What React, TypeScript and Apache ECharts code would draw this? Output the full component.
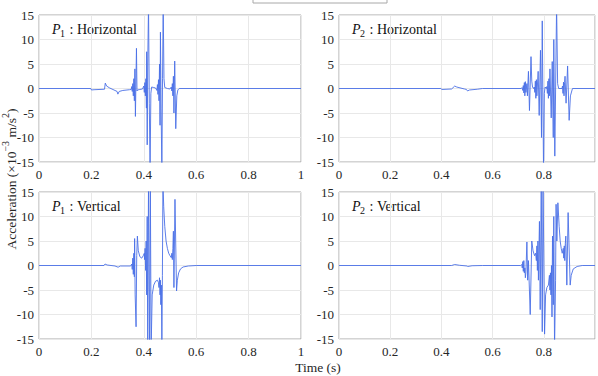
import React, { useEffect, useRef } from "react";
import * as echarts from "echarts";

// [time (s), acceleration (x10^-3 m/s^2)]
const P1_H: number[][] = [
  [0, 0], [0.198, 0], [0.2, -0.3], [0.21, -0.25], [0.25, -0.15], [0.253, 1.1], [0.258, 0.5], [0.27, 0.1],
  [0.29, -0.4], [0.298, -0.6], [0.301, -1.15], [0.306, -0.6], [0.32, -0.4], [0.345, -0.25], [0.352, -0.2],
  [0.354, 0.4], [0.356, -0.6], [0.358, 1.0], [0.36, -1.5], [0.362, 2.0], [0.364, -2.5], [0.366, 4.0],
  [0.368, -5.7], [0.3705, 3], [0.372, 8.2], [0.374, -0.5], [0.376, -0.3], [0.385, -0.2], [0.395, -0.1],
  [0.4, 0.5], [0.402, -0.8], [0.404, 1.2], [0.406, -1.5], [0.408, 2.0], [0.41, -4], [0.411, 7.5],
  [0.413, -11.5], [0.415, 5], [0.418, 17], [0.421, -3], [0.424, -17], [0.427, -1], [0.43, 0.3],
  [0.438, 0.2], [0.445, 0.1], [0.45, -0.4], [0.452, 0.8], [0.454, -1.2], [0.456, 1.8], [0.458, -2.5],
  [0.46, 5], [0.462, -7.5], [0.4635, 11.5], [0.466, -4], [0.469, -17], [0.4715, 2], [0.474, 17],
  [0.477, 2], [0.48, 0.2], [0.49, 0], [0.5, -0.1], [0.505, 0.3], [0.507, -0.5], [0.509, 1.0],
  [0.511, -1.5], [0.513, 2.5], [0.515, -5], [0.518, 5.6], [0.522, -8.2], [0.526, -1.5], [0.53, -0.3],
  [0.535, 0], [1, 0],
];

const P2_H: number[][] = [
  [0, 0], [0.398, 0], [0.402, -0.2], [0.44, -0.1], [0.452, 0.5], [0.46, 0.3], [0.49, -0.1], [0.498, -0.2],
  [0.502, -0.5], [0.51, -0.3], [0.54, -0.15], [0.56, 0], [0.712, 0],
  [0.715, 0.2], [0.718, -0.4], [0.72, 0.6], [0.722, -0.9], [0.724, 1.2], [0.726, -1.5], [0.728, 1.4],
  [0.73, -0.8], [0.734, 1], [0.736, -1.5], [0.74, 3.5], [0.744, -4.5], [0.75, 6.5], [0.753, 1.5],
  [0.756, 0.3], [0.76, 0],
  [0.763, 0.3], [0.765, -0.8], [0.767, 1.5], [0.769, -2], [0.771, 1.8], [0.773, -1.5], [0.778, 3.5],
  [0.782, -5.5], [0.787, 7.8], [0.791, -10], [0.794, 13.8], [0.799, -17], [0.802, -1], [0.805, 0.3],
  [0.81, 0], [0.812, 0.4], [0.814, -1], [0.816, 1.5], [0.818, -2], [0.82, 2], [0.822, -1.5], [0.824, 4],
  [0.829, -6], [0.833, 5.5], [0.837, -10], [0.839, 10], [0.843, -13.8], [0.85, 17], [0.854, 1],
  [0.858, 0], [0.871, 0], [0.873, 0.5], [0.875, -1], [0.877, 1.3], [0.879, -1.5], [0.881, 1.2],
  [0.883, 2.5], [0.887, -3], [0.893, 4.6], [0.899, -6.5], [0.904, -1.5], [0.912, 0], [1, 0],
];

const P1_V: number[][] = [
  [0, 0], [0.248, 0], [0.252, 0.3], [0.26, 0.1], [0.29, -0.1], [0.302, -0.35], [0.31, -0.1], [0.35, -0.1],
  [0.354, 0.3], [0.356, -0.8], [0.358, 1.5], [0.36, -1.8], [0.362, 2.5], [0.364, -2.3], [0.365, 5.5],
  [0.367, -6], [0.3705, -12.5], [0.373, 2], [0.3755, 6], [0.379, 3], [0.385, 1.8], [0.392, 1.5],
  [0.398, 2], [0.402, 2.5], [0.403, 1.2], [0.405, 3.5], [0.407, -1], [0.409, 5], [0.411, -6],
  [0.413, 10], [0.415, -17], [0.418, 17], [0.422, -17], [0.425, 17], [0.428, -17], [0.432, -6],
  [0.438, -4], [0.445, -3.2], [0.452, -3], [0.456, -3.5], [0.458, -4.5], [0.46, -2.5], [0.462, -6],
  [0.4635, -3], [0.465, -8], [0.467, -4], [0.469, -17], [0.471, -2], [0.473, 17], [0.476, 12],
  [0.48, 8], [0.485, 5], [0.49, 3.5], [0.495, 2.5], [0.5, 2], [0.505, 1.6], [0.507, 2.5], [0.509, 1.2],
  [0.511, 3.5], [0.513, 7], [0.515, -4.5], [0.519, 13.5], [0.525, -5.2], [0.528, -3], [0.533, -1.5],
  [0.54, -0.7], [0.55, -0.3], [0.57, -0.1], [0.6, 0], [1, 0],
];

const P2_V: number[][] = [
  [0, 0], [0.44, 0], [0.452, 0.2], [0.47, 0.05], [0.5, -0.1], [0.503, -0.2], [0.52, -0.05], [0.56, 0],
  [0.71, 0], [0.714, 0.2], [0.716, -0.5], [0.718, 0.8], [0.72, -1.2], [0.722, 1.0], [0.724, -1.5],
  [0.726, -0.5], [0.728, -2.5], [0.73, -1.5], [0.734, 4.8], [0.737, -3], [0.74, 1], [0.747, -10],
  [0.753, 5], [0.758, 3], [0.764, 2], [0.768, 2.5], [0.771, 1], [0.773, 4], [0.775, -1], [0.777, 5],
  [0.779, -3], [0.783, 9], [0.786, -9], [0.79, 17], [0.794, -13.5], [0.797, 17], [0.803, -14],
  [0.807, -6], [0.812, -4.5], [0.818, -4], [0.822, -2], [0.824, -5], [0.826, -1.5], [0.828, -6],
  [0.83, 0], [0.832, -10.5], [0.834, 6], [0.837, -8], [0.839, 10], [0.842, -17], [0.846, -3],
  [0.848, 12.5], [0.851, 5], [0.855, 12.8], [0.86, 8], [0.864, 5], [0.868, 3.5], [0.872, 2.5],
  [0.876, 3.5], [0.878, 1.5], [0.88, 4], [0.882, 1], [0.884, 4.5], [0.886, 6], [0.89, -4],
  [0.895, 10.8], [0.903, -4], [0.907, -2], [0.915, -0.7], [0.93, -0.2], [0.95, 0], [1, 0],
];

const X_TICKS = [0, 0.2, 0.4, 0.6, 0.8, 1];
const Y_TICKS = [-15, -10, -5, 0, 5, 10, 15];
const PANELS = [
  { sub: "1", dir: "Horizontal", data: P1_H },
  { sub: "2", dir: "Horizontal", data: P2_H },
  { sub: "1", dir: "Vertical", data: P1_V },
  { sub: "2", dir: "Vertical", data: P2_V },
];

const FONT = "Liberation Serif";
const LINE = "#4a6fe6";
const FRAME = "#a8a8a8";
const TXT = "#262626";

export default function App() {
  const ref = useRef<HTMLDivElement>(null);
  useEffect(() => {
    document.body.style.margin = "0";
    if (!ref.current) return;
    const chart = echarts.init(ref.current, null, { renderer: "svg" });
    const lefts = [39, 339, 39, 339];
    const tops = [15, 15, 192, 192];
    const widths = [262, 262.5, 262, 262.5];
    const grids = PANELS.map((_, i) => ({
      left: lefts[i], top: tops[i], width: widths[i], height: 147,
      show: true, borderColor: FRAME, borderWidth: 1, backgroundColor: "#fff",
    }));
    const xAxes = PANELS.map((_, i) => ({
      type: "value", gridIndex: i, min: X_TICKS[0], max: X_TICKS[X_TICKS.length - 1], interval: 0.2,
      axisLine: { show: false }, axisTick: { show: false },
      axisLabel: {
        color: TXT, fontFamily: FONT, fontSize: 13, margin: 6,
        formatter: (v: number) => (i % 2 === 1 && v === 1 ? "" : String(v)),
      },
      splitLine: { show: true, lineStyle: { color: "#e8e8e8", width: 1 } },
    }));
    const yAxes = PANELS.map((_, i) => ({
      type: "value", gridIndex: i, min: Y_TICKS[0], max: Y_TICKS[Y_TICKS.length - 1], interval: 5,
      axisLine: { show: false }, axisTick: { show: false },
      axisLabel: { color: TXT, fontFamily: FONT, fontSize: 13, margin: 5 },
      splitLine: { show: true, lineStyle: { color: "#e8e8e8", width: 1 } },
    }));
    const series = PANELS.map((p, i) => ({
      type: "line", xAxisIndex: i, yAxisIndex: i, data: p.data, showSymbol: false, symbol: "none",
      clip: true, lineStyle: { color: LINE, width: 0.9 }, silent: true,
    }));
    const labelEls: any[] = [];
    PANELS.forEach((p, i) => {
      const x = lefts[i] + 13;
      const y = tops[i] + 14;
      labelEls.push(
        { type: "text", x, y, style: { text: "P", font: `italic 14px ${FONT}`, fill: "#111", verticalAlign: "middle" } },
        { type: "text", x: x + 8, y: y + 4, style: { text: p.sub, font: `10px ${FONT}`, fill: "#111", verticalAlign: "middle" } },
        { type: "text", x: x + 17.5, y, style: { text: ":", font: `14px ${FONT}`, fill: "#111", verticalAlign: "middle" } },
        { type: "text", x: x + 25, y, style: { text: p.dir, font: `14px ${FONT}`, fill: "#111", verticalAlign: "middle" } },
      );
    });
    chart.setOption({
      animation: false,
      textStyle: { fontFamily: FONT },
      grid: grids,
      xAxis: xAxes,
      yAxis: yAxes,
      series,
      graphic: [
        ...labelEls,
        { type: "rect", shape: { x: 253, y: -10, width: 134, height: 13 }, style: { fill: "#fff", stroke: FRAME, lineWidth: 1 } },
        { type: "text", x: 9, y: 179, rotation: Math.PI / 2,
          style: {
            text: "{b|Acceleration (×10}{s|−3}{b| m/s}{s|2}{b|)}",
            align: "center", verticalAlign: "middle",
            rich: {
              b: { fontFamily: FONT, fontSize: 13.5, fill: TXT, color: TXT, lineHeight: 18, verticalAlign: "bottom" },
              s: { fontFamily: FONT, fontSize: 10, fill: TXT, color: TXT, lineHeight: 18, verticalAlign: "top" },
            },
          } },
        { type: "text", x: 318, y: 367,
          style: { text: "Time (s)", font: `13.5px ${FONT}`, fill: TXT, align: "center", verticalAlign: "middle" } },
      ],
    });
    return () => chart.dispose();
  }, []);
  return <div ref={ref} style={{ width: 598, height: 376 }} />;
}
